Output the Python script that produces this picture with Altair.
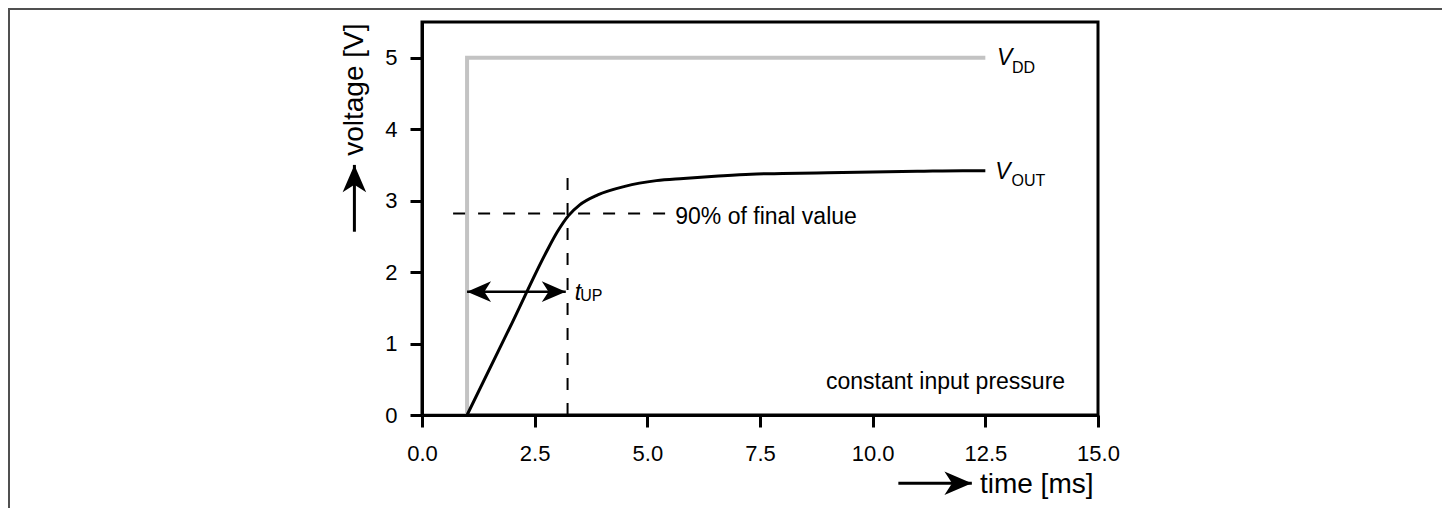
import altair as alt
import pandas as pd

# ---------------- data ----------------
vdd_t = [0.0, 1.0, 1.0, 12.5]
vdd_v = [0.0, 0.0, 5.0, 5.0]

out_t = [1.0, 2.0, 2.75, 3.0, 3.25, 3.5, 3.9, 4.5, 5.2, 5.8, 6.5, 7.3,
         8.0, 9.0, 10.0, 11.0, 12.0, 12.5]
out_v = [0.0, 1.29, 2.27, 2.56, 2.79, 2.94, 3.08, 3.20, 3.28, 3.31, 3.34, 3.37,
         3.38, 3.39, 3.40, 3.41, 3.42, 3.42]

x_ticks = [0.0, 2.5, 5.0, 7.5, 10.0, 12.5, 15.0]
y_ticks = [0, 1, 2, 3, 4, 5]

# annotation geometry (data units)
level90 = [2.82]
level90_x = [0.69]
level90_x2 = [5.58]
t_up = [3.23]
t_up_top = [3.45]
arrow_y = [1.726]
arrow_x1 = [1.0]
arrow_x2 = [3.19]

main_txt = ["V", "V", "t"]
main_x = [12.76, 12.72, 3.39]
main_y = [4.90, 3.30, 1.61]
sub_txt = ["DD", "OUT", "UP"]
sub_x = [13.09, 13.08, 3.51]
sub_y = [4.79, 3.21, 1.60]

note_txt = ["90% of final value"]
note_x = [5.62]
note_y = [2.67]
note2_txt = ["constant input pressure"]
note2_x = [14.27]
note2_y = [0.36]

# arrows beside the axis titles (extrapolated data units)
xarrow_x = [10.57]
xarrow_tip = [12.20]
xarrow_y = [-0.956]
yarrow_x = [-1.50]
yarrow_y = [2.565]
yarrow_tip = [3.50]

FONT = "Liberation Sans"
PLOT_W, PLOT_H = 676, 393

xscale = alt.Scale(domain=[0, 15], nice=False, zero=False)
yscale = alt.Scale(domain=[0, 5.5], nice=False, zero=False)

ax_x = alt.Axis(values=x_ticks, format=".1f", title="time [ms]",
                titleX=671, titleY=77, titleAlign="right", titleAnchor="end",
                titleBaseline="alphabetic", titleFontSize=28, titleFontWeight="normal",
                titleFont=FONT, titleColor="black",
                labelFont=FONT, labelFontSize=22, labelColor="black", labelPadding=16,
                tickSize=12, tickWidth=3, tickColor="black",
                domainWidth=3, domainColor="black", grid=False, labelFlush=False,
                zindex=1)
ax_y = alt.Axis(values=y_ticks, format="d", title="voltage [V]",
                titleX=-60, titleY=1, titleAngle=270, titleAlign="right",
                titleAnchor="end", titleBaseline="alphabetic",
                titleFontSize=28, titleFontWeight="normal",
                titleFont=FONT, titleColor="black",
                labelFont=FONT, labelFontSize=22, labelColor="black", labelPadding=13,
                tickSize=12, tickWidth=3, tickColor="black",
                domainWidth=3, domainColor="black", grid=False, labelFlush=False,
                zindex=1)


def X(f):
    return alt.X(f, type="quantitative", scale=xscale, axis=ax_x)


def X2(f):
    return alt.X2(f)


def Y(f):
    return alt.Y(f, type="quantitative", scale=yscale, axis=ax_y)


def Y2(f):
    return alt.Y2(f)


df_vdd = pd.DataFrame({"t": vdd_t, "v": vdd_v, "o": range(len(vdd_t))})
df_out = pd.DataFrame({"t": out_t, "v": out_v, "o": range(len(out_t))})

vdd = alt.Chart(df_vdd).mark_line(color="#c3c3c3", strokeWidth=4, strokeJoin="miter").encode(
    x=X("t"), y=Y("v"), order="o:Q")
vout = alt.Chart(df_out).mark_line(color="black", strokeWidth=3, interpolate="monotone").encode(
    x=X("t"), y=Y("v"), order="o:Q")

dash = [12, 13]
hdash = alt.Chart(pd.DataFrame({"x": level90_x, "x2": level90_x2, "y": level90})).mark_rule(
    color="black", strokeWidth=2, strokeDash=dash).encode(x=X("x"), x2=X2("x2"), y=Y("y"))
vdash = alt.Chart(pd.DataFrame({"x": t_up, "y": [0.0], "y2": t_up_top})).mark_rule(
    color="black", strokeWidth=2, strokeDash=dash).encode(x=X("x"), y=Y("y"), y2=Y2("y2"))

# arrowhead symbols (tip at the origin)
head_r = "M0,0L-1,-0.43L-0.72,0L-1,0.43Z"
head_l = "M0,0L1,-0.43L0.72,0L1,0.43Z"
head_u = "M0,0L-0.43,1L0,0.72L0.43,1Z"

shaft = alt.Chart(pd.DataFrame({"x": arrow_x1, "x2": arrow_x2, "y": arrow_y})).mark_rule(
    color="black", strokeWidth=2.5).encode(x=X("x"), x2=X2("x2"), y=Y("y"))
hl = alt.Chart(pd.DataFrame({"x": arrow_x1, "y": arrow_y})).mark_point(
    shape=head_l, filled=True, color="black", opacity=1, size=2300, strokeWidth=0).encode(
    x=X("x"), y=Y("y"))
hr = alt.Chart(pd.DataFrame({"x": arrow_x2, "y": arrow_y})).mark_point(
    shape=head_r, filled=True, color="black", opacity=1, size=2300, strokeWidth=0).encode(
    x=X("x"), y=Y("y"))

# axis-title arrows
xa_shaft = alt.Chart(pd.DataFrame({"x": xarrow_x, "x2": xarrow_tip, "y": xarrow_y})).mark_rule(
    color="black", strokeWidth=3).encode(x=X("x"), x2=X2("x2"), y=Y("y"))
xa_head = alt.Chart(pd.DataFrame({"x": xarrow_tip, "y": xarrow_y})).mark_point(
    shape=head_r, filled=True, color="black", opacity=1, size=3000, strokeWidth=0).encode(
    x=X("x"), y=Y("y"))
ya_shaft = alt.Chart(pd.DataFrame({"x": yarrow_x, "y": yarrow_y, "y2": yarrow_tip})).mark_rule(
    color="black", strokeWidth=3).encode(x=X("x"), y=Y("y"), y2=Y2("y2"))
ya_head = alt.Chart(pd.DataFrame({"x": yarrow_x, "y": yarrow_tip})).mark_point(
    shape=head_u, filled=True, color="black", opacity=1, size=3000, strokeWidth=0).encode(
    x=X("x"), y=Y("y"))

# texts
main_lbl = alt.Chart(pd.DataFrame({"x": main_x, "y": main_y, "s": main_txt})).mark_text(
    font=FONT, fontSize=23, fontStyle="italic", align="left", baseline="alphabetic",
    color="black").encode(x=X("x"), y=Y("y"), text="s:N")
sub_lbl = alt.Chart(pd.DataFrame({"x": sub_x, "y": sub_y, "s": sub_txt})).mark_text(
    font=FONT, fontSize=16, align="left", baseline="alphabetic",
    color="black").encode(x=X("x"), y=Y("y"), text="s:N")
note = alt.Chart(pd.DataFrame({"x": note_x, "y": note_y, "s": note_txt})).mark_text(
    font=FONT, fontSize=23, align="left", baseline="alphabetic",
    color="black").encode(x=X("x"), y=Y("y"), text="s:N")
note2 = alt.Chart(pd.DataFrame({"x": note2_x, "y": note2_y, "s": note2_txt})).mark_text(
    font=FONT, fontSize=23, align="right", baseline="alphabetic",
    color="black").encode(x=X("x"), y=Y("y"), text="s:N")

# outer picture frame (decoration)
frame = alt.Chart(pd.DataFrame({"k": [0]})).mark_rect(
    fill="transparent", stroke="#505050", strokeWidth=2).encode(
    x=alt.value(-413), x2=alt.value(1021), y=alt.value(-13), y2=alt.value(600))

chart = alt.layer(
    frame, vdd, vout, hdash, vdash, shaft, hl, hr,
    xa_shaft, xa_head, ya_shaft, ya_head,
    main_lbl, sub_lbl, note, note2,
).properties(
    width=PLOT_W, height=PLOT_H,
    padding={"left": 414, "top": 14, "right": 344, "bottom": 93},
    autosize=alt.AutoSizeParams(type="none"),
    background="white",
).configure_view(
    stroke="black", strokeWidth=3
)

chart.save("out.html", embed_options={"renderer": "svg", "actions": False})
